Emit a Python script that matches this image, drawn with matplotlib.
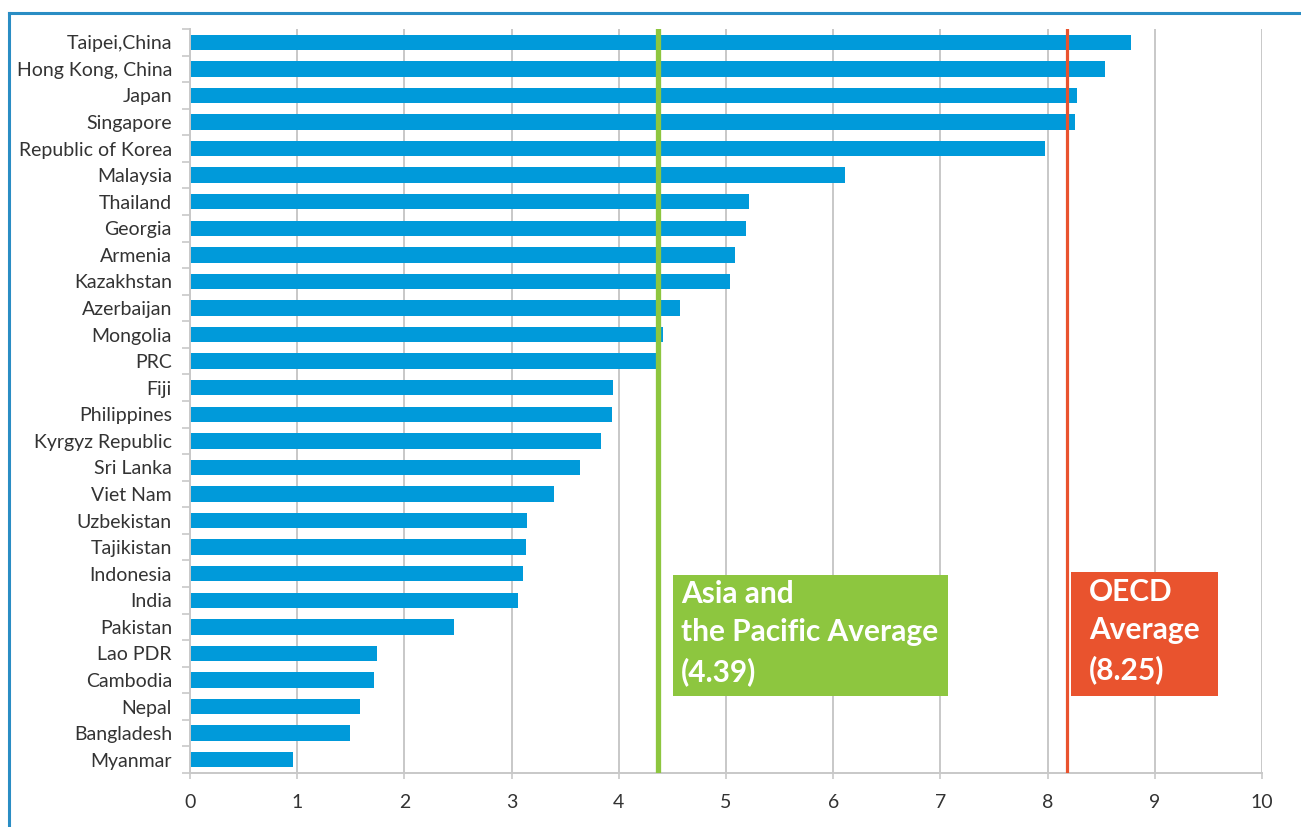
import matplotlib
matplotlib.use("Agg")
import matplotlib.pyplot as plt
from matplotlib.patches import Rectangle
from matplotlib.lines import Line2D

countries = ["Taipei,China", "Hong Kong, China", "Japan", "Singapore", "Republic of Korea",
             "Malaysia", "Thailand", "Georgia", "Armenia", "Kazakhstan", "Azerbaijan",
             "Mongolia", "PRC", "Fiji", "Philippines", "Kyrgyz Republic", "Sri Lanka",
             "Viet Nam", "Uzbekistan", "Tajikistan", "Indonesia", "India", "Pakistan",
             "Lao PDR", "Cambodia", "Nepal", "Bangladesh", "Myanmar"]
values = [8.78, 8.54, 8.27, 8.26, 7.98, 6.11, 5.21, 5.19, 5.08, 5.04, 4.57,
          4.41, 4.35, 3.95, 3.94, 3.83, 3.64, 3.40, 3.14, 3.13, 3.11, 3.06, 2.46,
          1.74, 1.72, 1.59, 1.49, 0.96]
asia_avg = 4.37
oecd_avg = 8.18
asia_label = "Asia and\nthe Pacific Average\n(4.39)"
oecd_label = "OECD\nAverage\n(8.25)"
xticks = list(range(0, 11))

BLUE = "#009ADA"
GREEN = "#8DC63F"
RED = "#E9532E"
GRID = "#C8C8C8"
TXT = "#333333"
FONT = "Lato"

W, H = 1301, 827
fig = plt.figure(figsize=(W / 100, H / 100), dpi=100)
fig.patch.set_facecolor("white")

def fx(px):
    return px / W

def fy(py):
    return 1 - py / H

ax = fig.add_axes([fx(190), fy(773), fx(1262) - fx(190), fy(29) - fy(773)])

n = len(countries)
ypos = list(range(n))
ax.barh(ypos, values, height=0.58, color=BLUE, zorder=2)
ax.set_ylim(n - 0.5, -0.5)
ax.set_xlim(0, 10)
ax.set_xticks(xticks)
ax.set_xticklabels([str(t) for t in xticks], fontsize=14, color=TXT, family=FONT)
ax.set_yticks(ypos)
ax.set_yticklabels(countries, fontsize=14, color=TXT, family=FONT)
ax.set_yticks([i + 0.5 for i in range(-1, n)], minor=True)
ax.tick_params(axis="y", which="major", length=0, pad=13)
ax.tick_params(axis="y", which="minor", length=6, color=GRID, width=1.2)
ax.tick_params(axis="x", which="major", length=4, color=GRID, width=1.2, pad=11)

ax.grid(axis="x", color=GRID, linewidth=1.4, zorder=0)
ax.set_axisbelow(True)
for s in ["top", "right"]:
    ax.spines[s].set_visible(False)
for s in ["left", "bottom"]:
    ax.spines[s].set_color(GRID)
    ax.spines[s].set_linewidth(1.4)

ax.axvline(asia_avg, color=GREEN, linewidth=3.8, zorder=3)
ax.axvline(oecd_avg, color=RED, linewidth=2.3, zorder=3)

# label boxes
fig.patches.append(Rectangle((fx(673), fy(696)), fx(948) - fx(673), fy(575) - fy(696),
                             transform=fig.transFigure, facecolor=GREEN, edgecolor="none", zorder=5))
fig.patches.append(Rectangle((fx(1071), fy(696)), fx(1218) - fx(1071), fy(572) - fy(696),
                             transform=fig.transFigure, facecolor=RED, edgecolor="none", zorder=5))
fig.text(fx(681), fy(580), asia_label, color="white", fontsize=21.5, family=FONT,
         fontweight="bold", va="top", ha="left", linespacing=1.45, zorder=6)
fig.text(fx(1089), fy(578), oecd_label, color="white", fontsize=21.5, family=FONT,
         fontweight="bold", va="top", ha="left", linespacing=1.45, zorder=6)

# frame
FRAME = "#2A8DC4"
fig.add_artist(Line2D([fx(9), 1.0], [fy(13), fy(13)], transform=fig.transFigure, color=FRAME, linewidth=2.2))
fig.add_artist(Line2D([fx(9), fx(9)], [0.0, fy(13)], transform=fig.transFigure, color=FRAME, linewidth=2.2))

fig.savefig("out.png", dpi=100, facecolor="white")
